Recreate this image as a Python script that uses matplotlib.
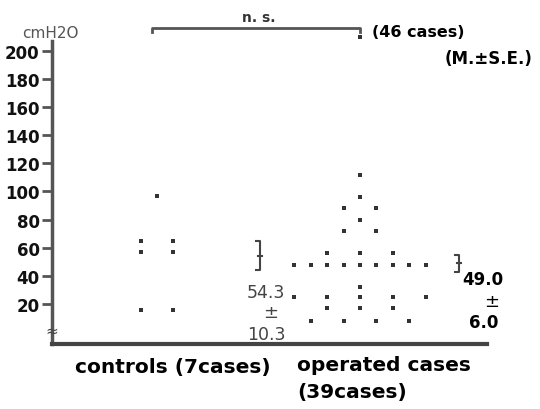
import numpy as np
from matplotlib import pyplot as plt

# readings (cmH2O) and column slot within each group
ctrl_values = [97, 65, 65, 57, 57, 16, 16]
ctrl_cols = [0, -1, 1, -1, 1, -1, 1]

op_values = [210, 112, 96, 88, 88, 80, 72, 72, 56, 56, 56,
             48, 48, 48, 48, 48, 48, 48, 48, 48, 32,
             25, 25, 25, 25, 25, 17, 17, 17, 8, 8, 8, 8]
op_cols = [0, 0, 0, -1, 1, 0, -1, 1, -2, 0, 2,
           -4, -3, -2, -1, 0, 1, 2, 3, 4, 0,
           -4, -2, 0, 2, 4, -2, 0, 2, -3, -1, 1, 3]

ctrl_mean, ctrl_se = 54.3, 10.3
op_mean, op_se = 49.0, 6.0

yticks = [20, 40, 60, 80, 100, 120, 140, 160, 180, 200]

step = 0.081
ink = '#333333'


def main():
    plt.rcParams['font.family'] = ['DejaVu Sans']
    fig = plt.figure(figsize=(5.4, 4.1), dpi=100)
    ax = fig.add_axes([0.0963, 0.1585, 0.8057, 0.7391])

    ax.plot(1 + np.array(ctrl_cols) * step, ctrl_values, 's', ms=2.2,
            color=ink, mew=0, clip_on=False)
    ax.plot(2 + np.array(op_cols) * step, op_values, 's', ms=2.2,
            color=ink, mew=0, clip_on=False)

    # mean +- SE brackets
    for xb, m, se in [(1.507, ctrl_mean, ctrl_se), (2.488, op_mean, op_se)]:
        ax.plot([xb - 0.02, xb, xb, xb - 0.02], [m + se, m + se, m - se, m - se],
                color='#444444', lw=1.5, clip_on=False)
        ax.plot([xb - 0.01, xb + 0.012], [m, m], color='#444444', lw=1.5,
                clip_on=False)

    ax.text(1.537, 28.5, f'{ctrl_mean:.1f}', ha='center', va='center',
            fontsize=12.5, color='#444444')
    ax.text(1.56, 14.3, '±', ha='center', va='center', fontsize=13,
            color='#444444')
    ax.text(1.537, -1.3, f'{ctrl_se:.1f}', ha='center', va='center',
            fontsize=12.5, color='#444444')
    ax.text(2.606, 37.8, f'{op_mean:.1f}', ha='center', va='center',
            fontsize=12, fontweight='bold', color='black', clip_on=False)
    ax.text(2.65, 22.1, '±', ha='center', va='center', fontsize=13,
            color='black')
    ax.text(2.61, 7.2, f'{op_se:.1f}', ha='center', va='center',
            fontsize=12, fontweight='bold', color='black')

    # significance bracket
    ax.plot([0.975, 0.975, 2.0, 2.0], [213.5, 216.3, 216.3, 213.5],
            color='#555555', lw=2, clip_on=False)
    ax.text(1.502, 224, 'n. s.', ha='center', va='center', fontsize=10,
            fontweight='bold', color=ink)
    ax.text(2.059, 213.5, '(46 cases)', ha='left', va='center', fontsize=11.5,
            fontweight='bold', color='black')
    fig.text(532 / 540, 1 - 59 / 410, '(M.±S.E.)', ha='right', va='center',
             fontsize=12, fontweight='bold', color='black')
    fig.text(22 / 540, 1 - 33 / 410, 'cmH2O', ha='left', va='center',
             fontsize=11, color='#555555')

    ax.set_xlim(0.483, 2.626)
    ax.set_ylim(-8.5, 207)
    ax.set_yticks(yticks)
    ax.set_yticklabels([str(t) for t in yticks], fontsize=12,
                       fontweight='bold', color='#111111')
    ax.tick_params(axis='y', length=7, width=2, color='#555555', pad=2)
    ax.set_xticks([])
    for side in ['top', 'right']:
        ax.spines[side].set_visible(False)
    ax.spines['left'].set_linewidth(2.5)
    ax.spines['left'].set_color('#555555')
    ax.spines['bottom'].set_linewidth(3)
    ax.spines['bottom'].set_color('#444444')

    # axis break mark
    ax.text(0.483, 1.5, '≈', ha='center', va='center', fontsize=11,
            color='#444444', clip_on=False)

    fig.text(173 / 540, 1 - 368 / 410, 'controls (7cases)', ha='center',
             va='center', fontsize=14.5, fontweight='bold', color='black')
    fig.text(297 / 540, 1 - 356 / 410, 'operated cases\n(39cases)', ha='left',
             va='top', fontsize=14.5, fontweight='bold', color='black',
             linespacing=1.55)

    fig.savefig('out.png', dpi=100)


if __name__ == "__main__":
    main()
